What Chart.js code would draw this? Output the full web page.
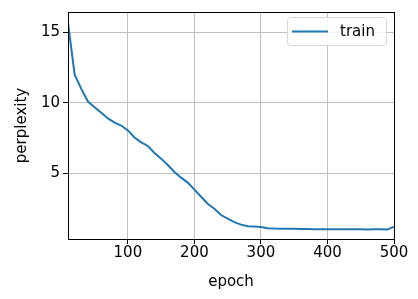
<!DOCTYPE html>
<html>
<head>
<meta charset="utf-8">
<script src="https://cdn.jsdelivr.net/npm/chart.js@4.4.0/dist/chart.umd.min.js"></script>
<style>
  html, body { margin: 0; padding: 0; background: #fff; }
  canvas { display: block; }
</style>
</head>
<body>
<canvas id="perplexityChart" width="418" height="299"></canvas>
<script>
// epochs sampled every 10
const epochs = [10, 20, 30, 40, 50, 60, 70, 80, 90, 100,
    110, 120, 130, 140, 150, 160, 170, 180, 190, 200,
    210, 220, 230, 240, 250, 260, 270, 280, 290, 300,
    310, 320, 330, 340, 350, 360, 370, 380, 390, 400,
    410, 420, 430, 440, 450, 460, 470, 480, 490, 500];
const trainPerplexity = [15.7, 12.0, 11.0, 10.1, 9.7, 9.3, 8.9, 8.6, 8.4, 8.05,
    7.55, 7.2, 6.95, 6.45, 6.05, 5.6, 5.1, 4.7, 4.35, 3.85,
    3.35, 2.85, 2.5, 2.05, 1.8, 1.55, 1.37, 1.25, 1.24, 1.2,
    1.12, 1.09, 1.08, 1.07, 1.07, 1.06, 1.06, 1.05, 1.05, 1.05,
    1.05, 1.05, 1.04, 1.04, 1.04, 1.03, 1.05, 1.04, 1.02, 1.22];
const xTicks = [100, 200, 300, 400, 500];
const yTicks = [5, 10, 15];

const FONT = "'DejaVu Sans', sans-serif";
const LINE_COLOR = '#1f77b4';

// matplotlib-style frame + legend box
const framePlugin = {
    id: 'frame',
    afterDraw(chart) {
        const { ctx, chartArea: a } = chart;
        ctx.save();
        ctx.strokeStyle = '#000';
        ctx.lineWidth = 1;
        ctx.strokeRect(Math.round(a.left) + 0.5, Math.round(a.top) + 0.5,
            Math.round(a.right - a.left), Math.round(a.bottom - a.top));

        // legend (upper right)
        const label = chart.data.datasets[0].label;
        const bx = 287, by = 17, bw = 99, bh = 28;
        ctx.fillStyle = 'rgba(255,255,255,0.8)';
        ctx.strokeStyle = '#d6d6d6';
        ctx.lineWidth = 1;
        ctx.beginPath();
        ctx.roundRect(bx + 0.5, by + 0.5, bw, bh, 3);
        ctx.fill();
        ctx.stroke();
        ctx.strokeStyle = LINE_COLOR;
        ctx.lineWidth = 2;
        ctx.beginPath();
        ctx.moveTo(292, by + bh / 2 + 0.5);
        ctx.lineTo(328, by + bh / 2 + 0.5);
        ctx.stroke();
        ctx.fillStyle = '#000';
        ctx.font = '15px ' + FONT;
        ctx.textBaseline = 'middle';
        ctx.fillText(label, 340, by + bh / 2 + 1);
        ctx.restore();
    }
};

const ctx = document.getElementById('perplexityChart').getContext('2d');

new Chart(ctx, {
    type: 'line',
    data: {
        datasets: [{
            label: 'train',
            data: epochs.map((e, i) => ({ x: e, y: trainPerplexity[i] })),
            borderColor: LINE_COLOR,
            borderWidth: 2,
            pointRadius: 0,
            tension: 0,
            fill: false
        }]
    },
    options: {
        responsive: false,
        animation: false,
        layout: { padding: { top: 8, right: 24, left: 13, bottom: 8 } },
        plugins: {
            legend: { display: false },
            tooltip: { enabled: false }
        },
        scales: {
            x: {
                type: 'linear',
                min: 10,
                max: 500,
                afterBuildTicks: s => { s.ticks = xTicks.map(v => ({ value: v })); },
                afterFit: s => { s.height = 52; },
                border: { display: false },
                grid: { color: '#c0c0c0', lineWidth: 1, tickColor: '#000', tickLength: 5 },
                ticks: { color: '#000', font: { family: FONT, size: 15 }, padding: 0, maxRotation: 0 },
                title: { display: true, text: 'epoch', color: '#000', font: { family: FONT, size: 15 }, padding: { top: 0, bottom: 0 } }
            },
            y: {
                type: 'linear',
                min: 0.35,
                max: 16.45,
                afterBuildTicks: s => { s.ticks = yTicks.map(v => ({ value: v })); },
                afterFit: s => { s.width = 55; },
                border: { display: false },
                grid: { color: '#c0c0c0', lineWidth: 1, tickColor: '#000', tickLength: 5 },
                ticks: { color: '#000', font: { family: FONT, size: 15 }, padding: 3 },
                title: { display: true, text: 'perplexity', color: '#000', font: { family: FONT, size: 15 }, padding: { top: 0, bottom: 0 } }
            }
        }
    },
    plugins: [framePlugin]
});
</script>
</body>
</html>
